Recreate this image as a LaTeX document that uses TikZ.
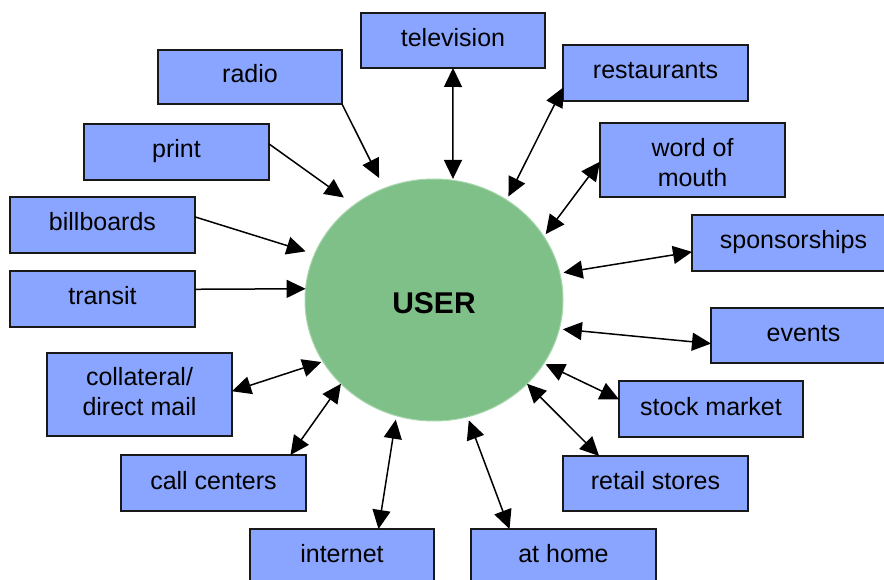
\documentclass[tikz,border=0pt]{standalone}
\usepackage{fontspec}
\setmainfont{Liberation Sans}
\usetikzlibrary{arrows.meta,shapes.geometric}
\definecolor{boxblue}{HTML}{8AA5FF}
\definecolor{usergreen}{HTML}{7FBF88}
\definecolor{userrim}{HTML}{A5D6AC}
\tikzset{
  channel/.style={draw=black!90, line width=1.4pt, fill=boxblue, inner sep=0pt,
    outer sep=0pt, minimum width=185pt, minimum height=55pt,
    font=\fontsize{25}{30}\selectfont},
  oneline/.style={text height=18pt, text depth=6pt},
  twoline/.style={align=center},
  link/.style={line width=1.5pt, draw=black},
  inflow/.style={link, -{Triangle[length=19pt,width=18pt]}},
  exchange/.style={link, {Triangle[length=19pt,width=18pt]}-{Triangle[length=19pt,width=18pt]}},
}
\begin{document}
\begin{tikzpicture}[x=1pt,y=-1pt]
\useasboundingbox (0,0) rectangle (884,580);
\clip (0,0) rectangle (884,580);

% central user
\node[ellipse, fill=usergreen, draw=userrim, line width=1pt,
  minimum width=258pt, minimum height=242pt, inner sep=0pt, outer sep=0pt,
  text height=26.5pt, text depth=0pt,
  font=\bfseries\fontsize{30}{36}\selectfont] (user) at (434,300) {USER};

% channels
\node[channel, oneline, minimum width=184pt] (tv) at (453,40.5) {television};
\node[channel, oneline, minimum width=184pt, minimum height=54pt] (radio) at (250,77) {radio};
\node[channel, oneline, minimum height=56pt] (rest) at (655.5,73) {restaurants};
\node[channel, oneline, minimum height=56pt] (print) at (176.5,152) {print};
\node[channel, twoline, minimum height=74pt] (wom) at (692.5,160) {\rule{0pt}{24pt}word of\\mouth};
\node[channel, oneline, minimum height=56pt] (bill) at (102.5,225) {billboards};
\node[channel, oneline, minimum width=203pt, minimum height=56pt] (spons) at (793.5,243) {sponsorships};
\node[channel, oneline] (events) at (803.5,335.5) {events};
\node[channel, oneline, minimum height=56pt] (transit) at (102.5,299) {transit};
\node[channel, twoline, minimum height=83pt] (coll) at (139.5,394.5) {collateral/\\direct mail\rule[-6pt]{0pt}{6pt}};
\node[channel, oneline, minimum width=184pt, minimum height=56pt] (stock) at (711,409) {stock market};
\node[channel, oneline, minimum height=56pt] (call) at (213.5,483) {call centers};
\node[channel, oneline] (retail) at (655.5,483.5) {retail stores};
\node[channel, oneline, minimum width=184pt] (internet) at (342,556.5) {internet};
\node[channel, oneline] (athome) at (563.5,556.5) {at home};

% one-way channels
\draw[inflow, shorten >=11.6pt] (radio.south east) -- (user.114);
\draw[inflow, shorten >=12.7pt] (print.5.4) -- (user.130.8);
\draw[inflow, shorten >=9.4pt] (bill.5.7) -- (user.159.7);
\draw[inflow] (transit.6) -- (user.175.2);

% two-way channels
\draw[exchange, shorten >=1.4pt] (tv.south) -- (user.81);
\draw[exchange, shorten >=4pt] (rest.189.2) -- (user.54.3);
\draw[exchange, shorten >=3.1pt] (wom.181.05) -- (user.30.6);
\draw[exchange, shorten >=3.8pt] (spons.185.63) -- (user.12.9);
\draw[exchange, shorten >=3.6pt] (events.185.25) -- (user.347.9);
\draw[exchange, shorten >=1.6pt] (coll.2.35) -- (user.209.5);
\draw[exchange, shorten >=1.9pt] (stock.174.4) -- (user.330.4);
\draw[exchange] (call.20.5) -- (user.222.4);
\draw[exchange] (retail.154) -- (user.318.6);
\draw[exchange, shorten >=4pt] (internet.37.8) -- (user.252.5);
\draw[exchange, shorten >=3.7pt] (athome.153.8) -- (user.286.6);
\end{tikzpicture}
\end{document}
